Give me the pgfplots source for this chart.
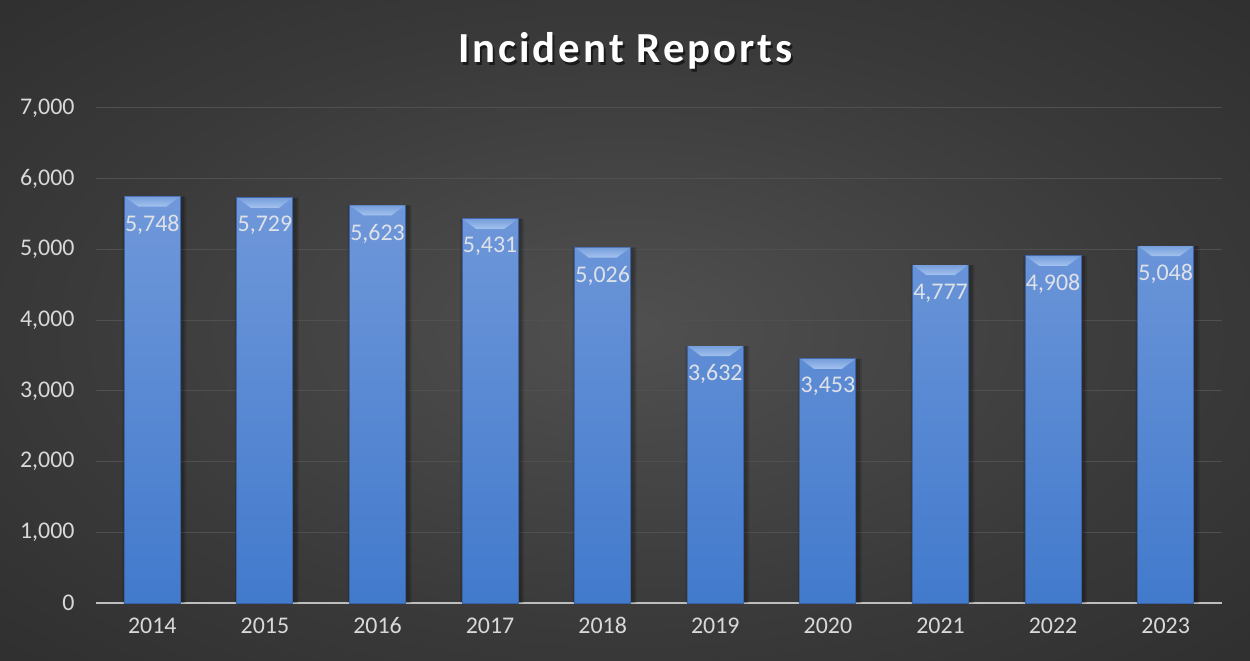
\documentclass[border=0pt]{standalone}
\usepackage{pgfplots}
\pgfplotsset{compat=1.18}
\usepackage{fontspec}
\setmainfont{Carlito}
\definecolor{bgin}{RGB}{80,80,80}
\definecolor{bgmid}{RGB}{58,58,58}
\definecolor{bgout}{RGB}{36,36,36}
\definecolor{gridc}{RGB}{80,80,80}
\definecolor{tickc}{RGB}{217,217,217}
\definecolor{labc}{RGB}{222,226,232}
\definecolor{bartop}{RGB}{112,152,218}
\definecolor{barbot}{RGB}{66,122,204}
\definecolor{bevtop}{RGB}{96,142,212}
\definecolor{bevbot}{RGB}{186,211,246}
\pgfdeclareradialshading{bgshade}{\pgfpoint{0bp}{0bp}}{color(0bp)=(bgin); color(22bp)=(bgmid); color(50bp)=(bgout)}
\pgfdeclareverticalshading{bevshade}{100bp}{color(0bp)=(bevbot); color(100bp)=(bevtop)}
\pgfdeclareplotmark{bevel}{%
  \pgfpathmoveto{\pgfqpoint{-27.6bp}{0bp}}%
  \pgfpathlineto{\pgfqpoint{27.6bp}{0bp}}%
  \pgfpathlineto{\pgfqpoint{14bp}{-10bp}}%
  \pgfpathlineto{\pgfqpoint{-14bp}{-10bp}}%
  \pgfpathclose
  \pgfshadepath{bevshade}{0}%
  \pgfusepath{discard}%
}
\begin{document}
\begin{tikzpicture}
\shade[shading=bgshade] (0bp,0bp) rectangle (1250bp,661bp);
\node[anchor=base, text=black, opacity=0.55, font=\fontsize{43}{48}\selectfont\bfseries\addfontfeature{LetterSpace=7}] at (627.5bp,595.5bp) {Incident Reports};
\node[anchor=base, text=white, font=\fontsize{43}{48}\selectfont\bfseries\addfontfeature{LetterSpace=7}] at (625.5bp,598bp) {Incident Reports};
\begin{axis}[
  at={(96bp,58bp)}, anchor=south west,
  scale only axis, width=1126bp, height=495bp,
  xmin=-0.5, xmax=9.5, ymin=0, ymax=7000,
  axis x line=bottom, axis y line=left,
  y axis line style={draw=none},
  x axis line style={draw={rgb,255:red,190;green,190;blue,190}, line width=1.6bp, -},
  xtick=data,
  xticklabels={2014,2015,2016,2017,2018,2019,2020,2021,2022,2023},
  ytick={0,1000,...,7000},
  major tick length=0pt,
  scaled y ticks=false,
  /pgf/number format/assume math mode=true,
  /pgf/number format/1000 sep={,},
  ymajorgrids, grid style={draw=gridc, line width=1bp},
  tick label style={text=tickc, font=\fontsize{24}{28}\selectfont},
  yticklabel style={xshift=-18bp},
  xticklabel style={text height=15bp, text depth=0bp, yshift=-12bp},
  clip=false,
]
\addplot[ybar, bar width=64bp, bar shift=2bp, fill=black, fill opacity=0.12, draw=none] coordinates {
(0,5748) (1,5729) (2,5623) (3,5431) (4,5026) (5,3632) (6,3453) (7,4777) (8,4908) (9,5048)
};
\addplot[ybar, bar width=60bp, bar shift=2bp, fill=black, fill opacity=0.2, draw=none] coordinates {
(0,5748) (1,5729) (2,5623) (3,5431) (4,5026) (5,3632) (6,3453) (7,4777) (8,4908) (9,5048)
};
\addplot[ybar, bar width=56bp, draw={rgb,255:red,58;green,98;blue,165}, line width=1bp,
  top color=bartop, bottom color=barbot,
  nodes near coords,
  every node near coord/.append style={anchor=north, inner sep=0pt, yshift=-18bp, text=labc, font=\fontsize{24}{28}\selectfont, fill opacity=1, text opacity=1},
] coordinates {
(0,5748) (1,5729) (2,5623) (3,5431) (4,5026) (5,3632) (6,3453) (7,4777) (8,4908) (9,5048)
};
\addplot[only marks, mark=bevel] coordinates {
(0,5748) (1,5729) (2,5623) (3,5431) (4,5026) (5,3632) (6,3453) (7,4777) (8,4908) (9,5048)
};
\end{axis}
\end{tikzpicture}
\end{document}
